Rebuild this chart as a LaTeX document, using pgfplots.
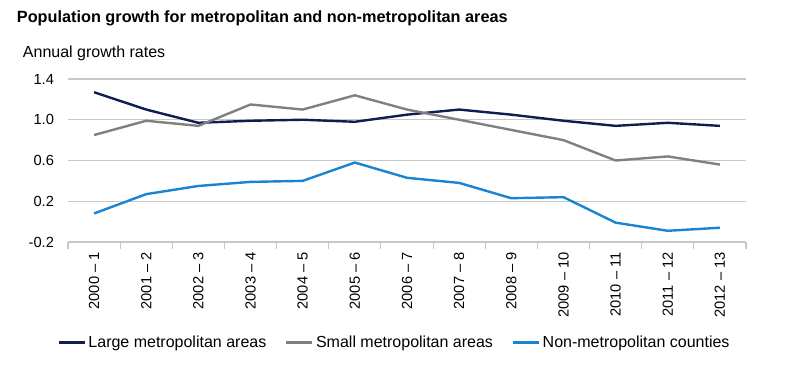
\documentclass[border=0pt]{standalone}
\usepackage{pgfplots}
\pgfplotsset{compat=1.18}
\usepackage{fontspec}
\setmainfont{Liberation Sans}
\definecolor{cLarge}{RGB}{14,30,80}
\definecolor{cSmall}{RGB}{128,128,128}
\definecolor{cNon}{RGB}{24,132,210}
\definecolor{cGrid}{RGB}{200,200,200}
\begin{document}
\begin{tikzpicture}
\path[use as bounding box] (0,0) rectangle (600bp,288bp);
\node[anchor=west,inner sep=0pt,font=\fontsize{12.2bp}{14bp}\selectfont\bfseries] at (12.5bp,274.5bp) {Population growth for metropolitan and non-metropolitan areas};
\node[anchor=west,inner sep=0pt,font=\fontsize{12bp}{14bp}\selectfont] at (17bp,248bp) {Annual growth rates};
\begin{axis}[
  at={(51bp,106.5bp)}, anchor=south west,
  scale only axis, width=508.5bp, height=122.25bp,
  xmin=-0.5, xmax=12.5, ymin=-0.2, ymax=1.4,
  axis line style={draw=none},
  axis x line*=bottom,
  x axis line style={draw=cGrid, line width=0.8pt},
  axis y line*=left,
  y axis line style={draw=none},
  xtick={0,...,12},
  xticklabels={2000 – 1,2001 – 2,2002 – 3,2003 – 4,2004 – 5,2005 – 6,2006 – 7,2007 – 8,2008 – 9,2009 – 10,2010 – 11,2011 – 12,2012 – 13},
  major x tick style={draw=none},
  minor xtick={-0.5,0.5,...,12.5},
  minor x tick style={draw=cGrid, line width=0.8pt},
  minor tick length=5bp,
  xtick align=outside,
  xticklabel style={rotate=90, anchor=east, font=\fontsize{11bp}{13bp}\selectfont, xshift=0bp},
  ytick={-0.2,0.2,0.6,1.0,1.4},
  yticklabels={-0.2,0.2,0.6,1.0,1.4},
  yticklabel style={font=\fontsize{11bp}{13bp}\selectfont, xshift=-7bp},
  major y tick style={draw=none},
  ymajorgrids, grid style={draw=cGrid, line width=0.8pt},
  clip=false,
  legend columns=3,
  legend style={draw=none, fill=none, at={(-0.016,-0.617)}, anchor=west,
    font=\fontsize{12bp}{14bp}\selectfont, inner sep=0pt,
    /tikz/every even column/.append style={column sep=12bp}},
  legend image code/.code={\draw[#1] (0bp,0bp) -- (19.5bp,0bp);},
  every axis plot/.append style={line width=1.8bp, line join=round},
]
\addplot[cLarge] coordinates {(0,1.27) (1,1.10) (2,0.97) (3,0.99) (4,1.00) (5,0.98) (6,1.05) (7,1.10) (8,1.05) (9,0.99) (10,0.94) (11,0.97) (12,0.94)};
\addlegendentry{Large metropolitan areas}
\addplot[cSmall] coordinates {(0,0.85) (1,0.99) (2,0.94) (3,1.15) (4,1.10) (5,1.24) (6,1.10) (7,1.00) (8,0.90) (9,0.80) (10,0.60) (11,0.64) (12,0.56)};
\addlegendentry{Small metropolitan areas}
\addplot[cNon] coordinates {(0,0.08) (1,0.27) (2,0.35) (3,0.39) (4,0.40) (5,0.58) (6,0.43) (7,0.38) (8,0.23) (9,0.24) (10,-0.01) (11,-0.09) (12,-0.06)};
\addlegendentry{Non-metropolitan counties}
\end{axis}
\end{tikzpicture}
\end{document}
